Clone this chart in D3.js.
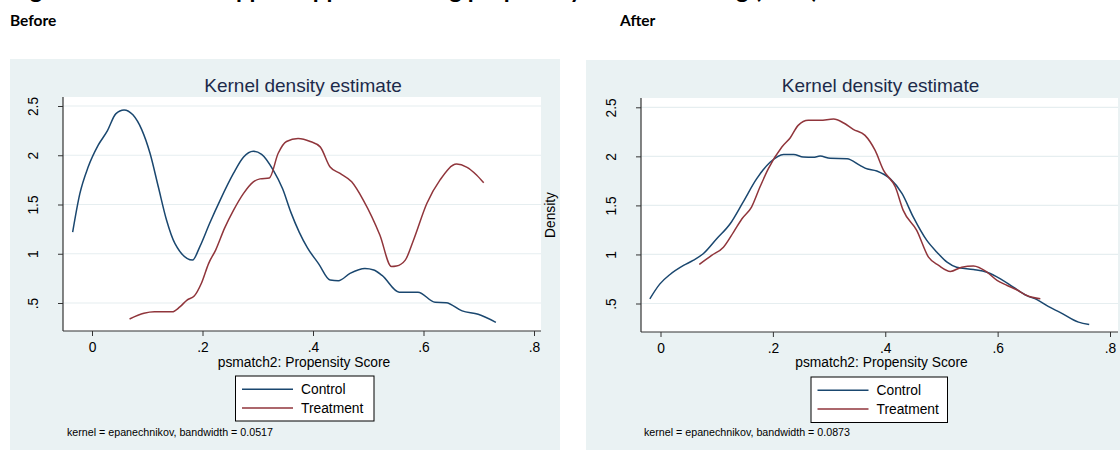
<!DOCTYPE html>
<html><head><meta charset="utf-8">
<script src="https://cdn.jsdelivr.net/npm/d3@7"></script>
<style>
html,body{margin:0;padding:0;background:#fff;}
svg{display:block;}
</style></head>
<body>
<svg id="chart" width="1120" height="450"></svg>
<script>
// ---------------- DATA ----------------
const figureTitle = "Figure 2: Common support approach using propensity score matching (PSM)";
const panelLabels = ["Before", "After"];
const chartTitle = "Kernel density estimate";
const xAxisTitle = "psmatch2: Propensity Score";
const yAxisTitle = "Density";
const seriesNames = ["Control", "Treatment"];
const xTicks = [0, 0.2, 0.4, 0.6, 0.8];
const xTickLabels = ["0", ".2", ".4", ".6", ".8"];
const yTicks = [0.5, 1, 1.5, 2, 2.5];
const yTickLabels = [".5", "1", "1.5", "2", "2.5"];
const notes = ["kernel = epanechnikov, bandwidth = 0.0517", "kernel = epanechnikov, bandwidth = 0.0873"];

// Before matching: [propensity score, density]
const beforeControl = [[-0.035,1.22],[-0.022,1.61],[-0.007,1.88],[0.011,2.10],[0.028,2.25],[0.043,2.42],[0.058,2.46],[0.074,2.41],[0.09,2.26],[0.105,2.02],[0.12,1.68],[0.135,1.34],[0.15,1.105],[0.182,0.936],[0.195,1.07],[0.213,1.31],[0.232,1.545],[0.256,1.815],[0.274,1.98],[0.292,2.04],[0.307,2.01],[0.328,1.85],[0.345,1.66],[0.36,1.42],[0.375,1.22],[0.39,1.06],[0.41,0.90],[0.431,0.733],[0.446,0.726],[0.467,0.80],[0.494,0.85],[0.51,0.835],[0.525,0.78],[0.556,0.61],[0.59,0.61],[0.621,0.507],[0.641,0.503],[0.67,0.42],[0.699,0.385],[0.731,0.304]];
const beforeTreatment = [[0.068,0.338],[0.094,0.395],[0.113,0.41],[0.145,0.41],[0.159,0.46],[0.172,0.53],[0.185,0.57],[0.198,0.70],[0.211,0.90],[0.224,1.04],[0.24,1.26],[0.256,1.44],[0.274,1.61],[0.292,1.73],[0.304,1.76],[0.321,1.77],[0.337,2.02],[0.352,2.14],[0.373,2.17],[0.395,2.14],[0.413,2.085],[0.431,1.88],[0.449,1.815],[0.47,1.73],[0.491,1.545],[0.521,1.19],[0.542,0.87],[0.551,0.875],[0.567,0.935],[0.582,1.14],[0.606,1.51],[0.63,1.75],[0.66,1.91],[0.678,1.88],[0.696,1.80],[0.709,1.72]];
// After matching
const afterControl = [[-0.019,0.548],[-0.001,0.70],[0.017,0.796],[0.041,0.888],[0.058,0.939],[0.076,1.007],[0.10,1.16],[0.124,1.313],[0.147,1.534],[0.171,1.77],[0.195,1.94],[0.219,2.02],[0.237,2.02],[0.254,1.993],[0.272,1.99],[0.284,2.003],[0.302,1.98],[0.332,1.976],[0.355,1.908],[0.364,1.88],[0.385,1.85],[0.409,1.77],[0.43,1.62],[0.45,1.38],[0.474,1.143],[0.492,1.023],[0.51,0.921],[0.527,0.87],[0.557,0.847],[0.581,0.819],[0.605,0.752],[0.628,0.666],[0.652,0.58],[0.67,0.54],[0.69,0.47],[0.711,0.41],[0.744,0.31],[0.763,0.286]];
const afterTreatment = [[0.069,0.898],[0.091,0.99],[0.112,1.074],[0.130,1.228],[0.145,1.364],[0.162,1.483],[0.177,1.687],[0.192,1.874],[0.216,2.095],[0.231,2.19],[0.245,2.316],[0.263,2.367],[0.284,2.367],[0.308,2.38],[0.326,2.34],[0.343,2.275],[0.364,2.214],[0.382,2.06],[0.397,1.857],[0.418,1.687],[0.432,1.449],[0.456,1.245],[0.477,0.972],[0.495,0.888],[0.516,0.827],[0.536,0.87],[0.557,0.881],[0.581,0.82],[0.599,0.735],[0.617,0.684],[0.634,0.64],[0.652,0.582],[0.676,0.548]];

// ---------------- STYLE ----------------
const colors = ["#1a476f", "#90353b"];
const bg = "#eaf2f3";
const grid = "#e6eef0";
const sansFont = "'Liberation Sans', Arial, sans-serif";
const docFont = "Lato, 'Open Sans', sans-serif";

const svg = d3.select("#chart");

// figure caption (mostly cut off at the top edge, only descenders show)
svg.append("text").attr("x", 10).attr("y", -2)
  .attr("font-family", docFont).attr("font-weight", 700).attr("font-size", 24)
  .attr("fill", "#000").text(figureTitle);

const panels = [
  { label: panelLabels[0], labelX: 10,
    box: {x: 10, y: 59, w: 550, h: 391},
    plot: {l: 63, r: 541, t: 97, b: 331},
    xr: [92, 534], yr: [303, 106],
    data: [beforeControl, beforeTreatment], note: notes[0],
    legend: {x: 235.5, y: 376, w: 138.5, h: 45}, noteX: 67 },
  { label: panelLabels[1], labelX: 620,
    box: {x: 586, y: 60, w: 534, h: 390},
    plot: {l: 641, r: 1118, t: 98, b: 332},
    xr: [660.5, 1110], yr: [303.5, 107.3],
    data: [afterControl, afterTreatment], note: notes[1],
    legend: {x: 811, y: 377, w: 136.5, h: 45.5}, noteX: 644 }
];

panels.forEach(p => {
  svg.append("text").attr("x", p.labelX).attr("y", 26)
    .attr("font-family", docFont).attr("font-weight", 700).attr("font-size", 15.5)
    .attr("fill", "#000").text(p.label);
});

panels.forEach((p, i) => {
  const g = svg.append("g");
  g.append("rect").attr("x", p.box.x).attr("y", p.box.y)
    .attr("width", p.box.w).attr("height", p.box.h).attr("fill", bg);
  g.append("rect").attr("x", p.plot.l).attr("y", p.plot.t)
    .attr("width", p.plot.r - p.plot.l).attr("height", p.plot.b - p.plot.t).attr("fill", "#fff");

  const x = d3.scaleLinear().domain([xTicks[0], xTicks[xTicks.length - 1]]).range(p.xr);
  const y = d3.scaleLinear().domain([yTicks[0], yTicks[yTicks.length - 1]]).range(p.yr);

  // gridlines
  g.selectAll(".grid").data(yTicks).enter().append("line")
    .attr("x1", p.plot.l).attr("x2", p.plot.r)
    .attr("y1", d => y(d)).attr("y2", d => y(d))
    .attr("stroke", grid).attr("stroke-width", 1.2);

  // title
  g.append("text").attr("x", (p.plot.l + p.plot.r) / 2 + 1).attr("y", 92)
    .attr("text-anchor", "middle").attr("font-family", sansFont).attr("font-size", 19)
    .attr("fill", "#1c2a4a").text(chartTitle);

  // axes
  const xAxis = d3.axisBottom(x).tickValues(xTicks)
    .tickFormat((d, k) => xTickLabels[k]).tickSize(5).tickSizeOuter(0).tickPadding(6);
  const gx = g.append("g").attr("transform", `translate(0,${p.plot.b})`).call(xAxis);
  gx.select(".domain").remove();
  gx.selectAll("line").attr("stroke", "#333");
  gx.selectAll("text").attr("font-family", sansFont).attr("font-size", 13.8).attr("fill", "#000");

  const yAxis = d3.axisLeft(y).tickValues(yTicks)
    .tickFormat((d, k) => yTickLabels[k]).tickSize(5).tickSizeOuter(0);
  const gy = g.append("g").attr("transform", `translate(${p.plot.l},0)`).call(yAxis);
  gy.select(".domain").remove();
  gy.selectAll("line").attr("stroke", "#333");
  gy.selectAll("text").attr("x", null).attr("dy", null)
    .attr("text-anchor", "middle")
    .attr("transform", "translate(-25,0) rotate(-90)")
    .attr("font-family", sansFont).attr("font-size", 13.8).attr("fill", "#000");

  // axis lines
  g.append("line").attr("x1", p.plot.l).attr("x2", p.plot.l)
    .attr("y1", p.plot.t).attr("y2", p.plot.b).attr("stroke", "#333").attr("stroke-width", 1.2);
  g.append("line").attr("x1", p.plot.l).attr("x2", p.plot.r)
    .attr("y1", p.plot.b).attr("y2", p.plot.b).attr("stroke", "#333").attr("stroke-width", 1.2);

  // curves
  const line = d3.line().x(d => x(d[0])).y(d => y(d[1])).curve(d3.curveMonotoneX);
  p.data.forEach((s, k) => {
    g.append("path").attr("d", line(s)).attr("fill", "none")
      .attr("stroke", colors[k]).attr("stroke-width", 1.5);
  });

  // x axis title
  g.append("text").attr("x", (p.plot.l + p.plot.r) / 2 + 2).attr("y", 367)
    .attr("text-anchor", "middle").attr("font-family", sansFont).attr("font-size", 13.8)
    .attr("fill", "#000").text(xAxisTitle);

  // legend
  const L = p.legend;
  g.append("rect").attr("x", L.x).attr("y", L.y).attr("width", L.w).attr("height", L.h)
    .attr("fill", "#fff").attr("stroke", "#000").attr("stroke-width", 1);
  seriesNames.forEach((n, k) => {
    const ly = L.y + 13.3 + k * 18.7;
    g.append("line").attr("x1", L.x + 6.5).attr("x2", L.x + 57.5)
      .attr("y1", ly).attr("y2", ly).attr("stroke", colors[k]).attr("stroke-width", 1.5);
    g.append("text").attr("x", L.x + 65.5).attr("y", ly + 5)
      .attr("font-family", sansFont).attr("font-size", 13.8).attr("fill", "#000").text(n);
  });

  // note
  g.append("text").attr("x", p.noteX).attr("y", 436)
    .attr("font-family", sansFont).attr("font-size", 10.7).attr("fill", "#000").text(p.note);
});

// y axis title of "After" graph (sits at the seam between the panels)
svg.append("text").attr("transform", "translate(555,215) rotate(-90)")
  .attr("text-anchor", "middle").attr("font-family", sansFont).attr("font-size", 13.8)
  .attr("fill", "#000").text(yAxisTitle);
</script>
</body></html>
